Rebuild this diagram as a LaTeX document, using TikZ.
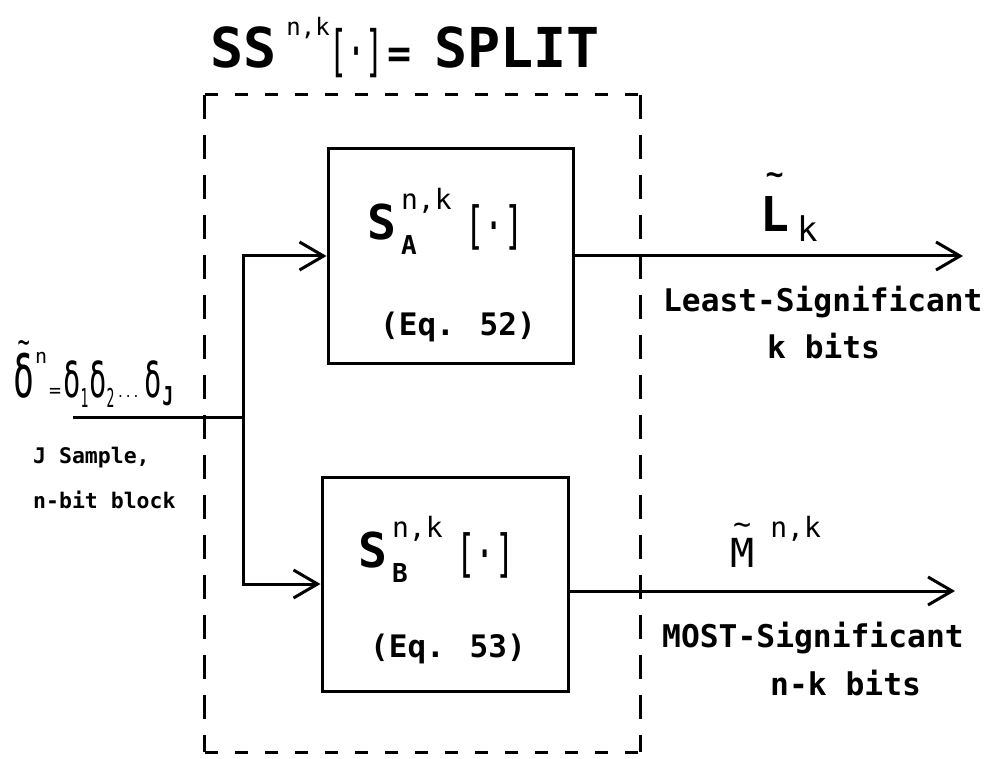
\documentclass[tikz,border=0pt]{standalone}
\usepackage{fontspec}
\setmainfont{DejaVu Sans Mono}
\usetikzlibrary{arrows.meta}
\newcommand\fsz[1]{\fontsize{#1}{#1}\selectfont}
\newcommand\tld[3]{\ooalign{#3\cr\hidewidth\raisebox{#1}{\fsz{#2}\char"7E}\hidewidth\cr}}
\newcommand\nrw[2][0.6]{\scalebox{#1}[1]{#2}}
\begin{document}
\begin{tikzpicture}[x=1pt,y=-1pt,
  box/.style={draw,line width=3pt,inner sep=0pt},
  hdash/.style={line width=3pt,dash pattern=on 13pt off 17pt},
  vdash/.style={line width=3pt,dash pattern=on 24pt off 16pt},
  lbl/.style={anchor=base west,inner sep=0pt,font=\bfseries},
  conn/.style={line width=3pt},
  arr/.style={conn,-{Straight Barb[length=24pt,width=28pt,line width=3pt]}}]
\useasboundingbox (0,0) rectangle (993,759);
\fill[white] (0,0) rectangle (993,759);

% dashed enclosure
\node[inner sep=0pt,minimum width=435pt,minimum height=657pt] (SS) at (422.5,423.5) {};
\draw[hdash] (SS.north west) -- (SS.north east);
\draw[hdash] (SS.south west) -- (SS.south east);
\draw[vdash] (SS.north west) -- (SS.south west);
\draw[vdash] (SS.north east) -- (SS.south east);

% title
\node[lbl] (title) at (210,68) {\fsz{55}SS\hspace{10pt}\raisebox{32pt}{\mdseries\fsz{24}n,k}\hspace{0pt}\raisebox{-3pt}{\mdseries\scalebox{1}[1.85]{\fsz{30}[·]}}\hspace{4pt}\fsz{40}=\hspace{22pt}\fsz{55}SPLIT};

% blocks
\node[box,minimum width=245pt,minimum height=214pt] (A) at (450.5,256) {};
\node[box,minimum width=246pt,minimum height=214pt] (B) at (445,584) {};

\node[lbl] (Alab) at (367,240) {{\fsz{48}S}\hspace{5pt}\rlap{\raisebox{-15pt}{\fsz{26}A}}\raisebox{30pt}{\mdseries\fsz{28}n,k}\hspace{14pt}\raisebox{-4pt}{\mdseries\scalebox{1}[1.6]{\fsz{32}[·]}}};
\node[lbl] (Aeq) at (380,335) {\fsz{31}(Eq. 52)};
\node[lbl] (Blab) at (358,567) {{\fsz{48}S}\hspace{5pt}\rlap{\raisebox{-15pt}{\fsz{26}B}}\raisebox{30pt}{\mdseries\fsz{28}n,k}\hspace{14pt}\raisebox{-4pt}{\mdseries\scalebox{1}[1.6]{\fsz{32}[·]}}};
\node[lbl] (Beq) at (370,657) {\fsz{31}(Eq. 53)};

% input
\node[lbl,font=\mdseries] (dl) at (13,397) {\nrw{\fsz{58}\tld{44pt}{34}{δ}}\hspace{1pt}\raisebox{34pt}{\fsz{20}n}\hspace{2pt}{\fsz{20}=}\hspace{2pt}\nrw{\fsz{48}δ}\raisebox{-10pt}{\nrw[0.5]{\fsz{26}1}}\hspace{1pt}\nrw{\fsz{48}δ}\raisebox{-10pt}{\nrw[0.5]{\fsz{26}2}}\hspace{2pt}{\fsz{13}...}\hspace{4pt}\nrw{\fsz{48}δ}\hspace{1pt}\raisebox{-8pt}{\nrw[0.7]{\fsz{26}\bfseries J}}};
\node[lbl] (js) at (33,463) {\fsz{21.5}J Sample,};
\node[lbl] (nb) at (33,508) {\fsz{21.5}n-bit block};
\coordinate (in) at (73,417);
\coordinate (br) at (243,417);
\draw[conn] (in) -- (br);
\draw[arr] (br) |- (A.west);
\draw[arr] (br) |- (B.west);

% outputs
\coordinate (Lend) at (963,257);
\coordinate (Mend) at (955,591);
\draw[arr] (A.east) -- (A.east -| Lend);
\draw[arr] (B.east |- Mend) -- (Mend);

\node[lbl] (Lt) at (760,232) {{\fsz{48}\tld{47pt}{30}{L}}\hspace{8pt}\raisebox{-10pt}{\mdseries\fsz{34}k}};
\node[lbl] (Ls) at (663,312) {\fsz{31.2}Least-Significant};
\node[lbl] (Lk) at (767,358) {\fsz{31.2}k bits};
\node[lbl,font=\mdseries] (Mt) at (730,567) {{\fsz{40}\tld{33pt}{30}{M}}\hspace{16pt}\raisebox{30pt}{\fsz{28}n,k}};
\node[lbl] (Ms) at (662,647) {\fsz{31.3}MOST-Significant};
\node[lbl] (Mk) at (770,695) {\fsz{31.3}n-k bits};
\end{tikzpicture}
\end{document}
